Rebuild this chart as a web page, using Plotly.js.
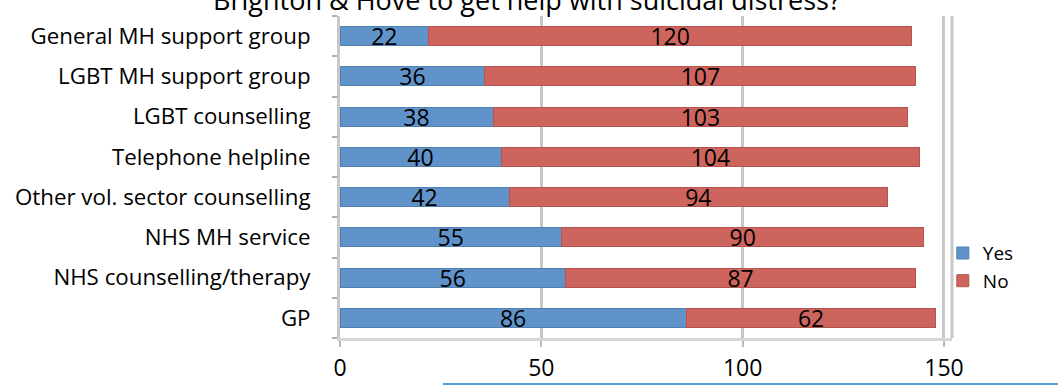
<!DOCTYPE html>
<html>
<head>
<meta charset="utf-8">
<script src="https://cdn.plot.ly/plotly-3.0.1.min.js"></script>
<style>
  html, body { margin: 0; padding: 0; background: #fff; }
  #chart { width: 1060px; height: 387px; }
</style>
</head>
<body>
<div id="chart"></div>
<script>
// Services, bottom to top as they appear on the category axis
const services = [
  'GP',
  'NHS counselling/therapy',
  'NHS MH service',
  'Other vol. sector counselling',
  'Telephone helpline',
  'LGBT counselling',
  'LGBT MH support group',
  'General MH support group'
];
const yesCounts = [86, 56, 55, 42, 40, 38, 36, 22];
const noCounts  = [62, 87, 90, 94, 104, 103, 107, 120];
const xTicks = [0, 50, 100, 150];

const FONT = '"Open Sans", "Noto Sans", "Liberation Sans", sans-serif';
const BLUE = '#5f93ca';
const RED = '#cd655e';

function series(name, values, color, edge) {
  return {
    type: 'bar',
    orientation: 'h',
    name: name,
    y: services,
    x: values,
    text: values.map(String),
    textposition: 'inside',
    insidetextanchor: 'middle',
    textangle: 0,
    constraintext: 'none',
    textfont: { family: FONT, size: 23, color: '#000' },
    marker: { color: color, line: { color: edge, width: 1 } },
    hoverinfo: 'x+y+name'
  };
}

const data = [
  series('Yes', yesCounts, BLUE, '#4f7fb3'),
  series('No', noCounts, RED, '#b5544e')
];

const layout = {
  width: 1060,
  height: 387,
  barmode: 'stack',
  bargap: 0.53,
  margin: { l: 340, r: 108, t: 16, b: 49 },
  paper_bgcolor: '#fff',
  plot_bgcolor: '#fff',
  font: { family: FONT, size: 19, color: '#000' },
  title: {
    text: 'Brighton & Hove to get help with suicidal distress?',
    font: { family: FONT, size: 27, color: '#000' },
    x: 0.497, xanchor: 'center',
    y: 1 - 1 / 387, yanchor: 'middle', yref: 'container'
  },
  xaxis: {
    range: [0, 152],
    tickvals: xTicks,
    ticktext: xTicks.map(String),
    showgrid: true,
    gridcolor: '#c8c8c8',
    gridwidth: 3,
    zeroline: false,
    showline: true,
    linecolor: '#d6d6d6',
    linewidth: 3,
    ticks: 'outside',
    ticklen: 6,
    tickwidth: 2,
    tickcolor: '#b8b8b8',
    ticklabelstandoff: 1,
    tickfont: { family: FONT, size: 23, color: '#000' },
    fixedrange: true
  },
  yaxis: {
    type: 'category',
    categoryorder: 'array',
    categoryarray: services,
    showline: true,
    linecolor: '#c8c8c8',
    linewidth: 3,
    ticks: 'outside',
    tickson: 'boundaries',
    ticklen: 5,
    tickwidth: 2,
    tickcolor: '#b0b0b0',
    showgrid: false,
    tickfont: { family: FONT, size: 22.3, color: '#000' },
    ticklabelstandoff: 22,
    fixedrange: true
  },
  legend: {
    x: 0.985, xanchor: 'left',
    y: 0.22, yanchor: 'middle',
    font: { family: FONT, size: 19, color: '#000' },
    itemwidth: 30,
    tracegroupgap: 4,
    traceorder: 'normal',
    bgcolor: 'rgba(0,0,0,0)'
  },
  shapes: [
    {
      type: 'line', xref: 'paper', yref: 'paper',
      x0: 1.0, x1: 1.0, y0: 0, y1: 1,
      line: { color: '#c8c8c8', width: 3 }
    },
    {
      type: 'line', xref: 'paper', yref: 'paper',
      x0: (443 - 340) / 612, x1: (1058 - 340) / 612,
      y0: -46 / 322, y1: -46 / 322,
      line: { color: '#5b9bd5', width: 2 }
    }
  ],
  showlegend: true
};

Plotly.newPlot('chart', data, layout, { displayModeBar: false, staticPlot: true });
</script>
</body>
</html>
